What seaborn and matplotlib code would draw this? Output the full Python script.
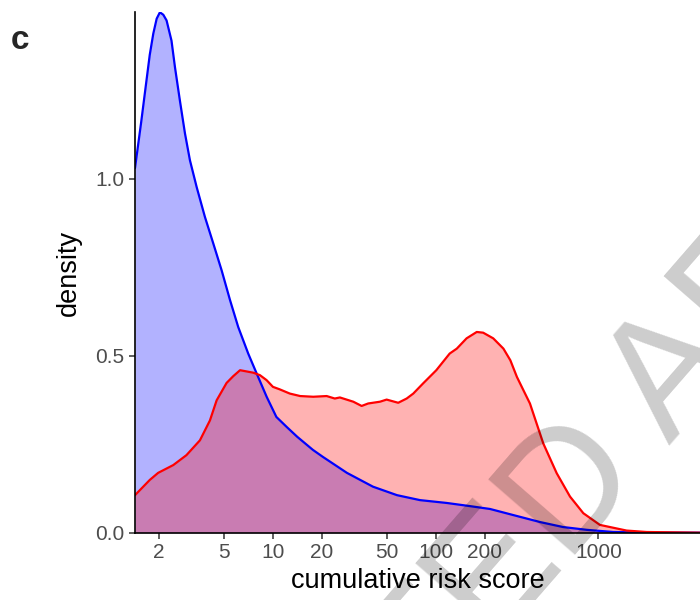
import matplotlib
matplotlib.use("Agg")
import matplotlib.pyplot as plt
import numpy as np
import pandas as pd
import seaborn as sns

# Density of cumulative risk score, two groups (log-scaled x axis)
blue_score = [1.42, 1.55, 1.67, 1.75, 1.84, 1.93, 2.02, 2.12, 2.22, 2.38, 2.50, 2.68,
              2.88, 3.09, 3.40, 3.82, 4.30, 4.84, 5.45, 6.12, 7.05, 7.94, 9.15, 10.5,
              12.2, 14.1, 17.6, 20.3, 28.5, 41.2, 57.9, 80.2, 117, 163, 216, 299, 439,
              607, 853, 1233, 1995, 4217]
blue_density = [1.03, 1.16, 1.277, 1.35, 1.41, 1.452, 1.470, 1.463, 1.447, 1.390, 1.315, 1.221,
                1.128, 1.052, 0.976, 0.892, 0.817, 0.741, 0.657, 0.581, 0.506, 0.450, 0.384, 0.327,
                0.298, 0.271, 0.234, 0.214, 0.169, 0.130, 0.106, 0.092, 0.084, 0.075, 0.067, 0.050, 0.030,
                0.016, 0.008, 0.002, 0.0005, 0.0]

red_score = [1.42, 1.75, 1.97, 2.44, 2.94, 3.56, 4.10, 4.51, 5.19, 5.70, 6.28, 7.57,
             8.32, 9.14, 10.0, 11.0, 12.7, 14.7, 17.7, 21.4, 24.0, 25.8, 31.2, 35.1,
             38.5, 45.5, 50.0, 58.9, 66.4, 72.9, 83.9, 101, 122, 135, 155, 179, 196,
             226, 261, 288, 316, 346, 380, 459, 555, 670, 809, 1023, 1493, 1982, 4217]
red_density = [0.106, 0.149, 0.169, 0.191, 0.219, 0.261, 0.317, 0.374, 0.423, 0.442, 0.459, 0.452,
               0.445, 0.431, 0.412, 0.405, 0.393, 0.386, 0.384, 0.386, 0.379, 0.382, 0.370, 0.358,
               0.365, 0.370, 0.376, 0.367, 0.379, 0.393, 0.422, 0.459, 0.506, 0.520, 0.549, 0.567, 0.565,
               0.549, 0.520, 0.487, 0.440, 0.403, 0.365, 0.252, 0.168, 0.102, 0.055, 0.022, 0.006, 0.002, 0.0]

x_ticks = [2, 5, 10, 20, 50, 100, 200, 1000]
y_ticks = [0.0, 0.5, 1.0]

sns.set_theme(style="ticks")
plt.rcParams["font.family"] = ["Liberation Sans", "DejaVu Sans"]

df = pd.concat([
    pd.DataFrame({"score": blue_score, "density": blue_density, "group": "low"}),
    pd.DataFrame({"score": red_score, "density": red_density, "group": "high"}),
])

fig = plt.figure(figsize=(7, 6), dpi=100)
ax = fig.add_axes([135 / 700, (600 - 532.7) / 600, (700 - 135) / 700, (532.7 - 12.3) / 600])

colors = {"low": "#0000FF", "high": "#FF0000"}
for grp in ["low", "high"]:
    sub = df[df["group"] == grp]
    ax.fill_between(sub["score"], 0, sub["density"], color=colors[grp], alpha=0.3, lw=0, zorder=2)
    sns.lineplot(data=sub, x="score", y="density", color=colors[grp], lw=1.6, ax=ax,
                 sort=False, estimator=None, zorder=3)

ax.set_xscale("log")
ax.set_xlim(1.42, 4217)
ax.set_ylim(0, max(blue_density))
ax.set_xticks(x_ticks)
ax.set_xticklabels([str(t) for t in x_ticks])
ax.xaxis.set_minor_locator(matplotlib.ticker.NullLocator())
ax.set_yticks(y_ticks)
ax.set_yticklabels([f"{t:.1f}" for t in y_ticks])

sns.despine(ax=ax)
for s in ["left", "bottom"]:
    ax.spines[s].set_linewidth(1.2)
    ax.spines[s].set_color("black")
    ax.spines[s].set_zorder(4)
ax.tick_params(axis="both", length=4.5, width=1.1, color="#333333",
               labelsize=15, labelcolor="#4D4D4D", pad=3)

ax.set_xlabel("cumulative risk score", fontsize=19.5, color="black", labelpad=4)
ax.set_ylabel("density", fontsize=19.5, color="black", labelpad=10)

fig.text(11 / 700, 1 - 49 / 600, "c", fontsize=24, fontweight="bold", ha="left", va="baseline")

# diagonal watermark across the lower right of the panel
fig.text(558 / 700, 1 - 510 / 600, "ACCEPTED ARTICLE", fontsize=120, color="black", alpha=0.2,
         rotation=49, rotation_mode="anchor", ha="center", va="center", zorder=10)

fig.savefig("out.png", dpi=100)
